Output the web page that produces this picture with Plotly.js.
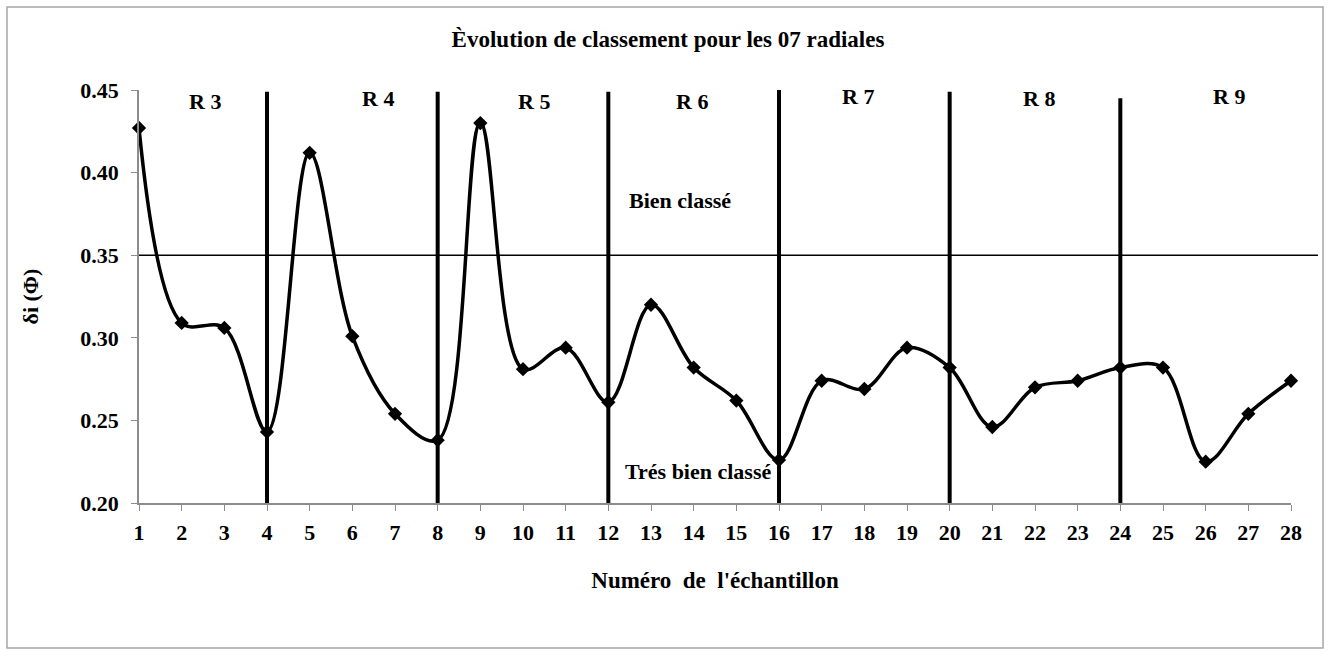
<!DOCTYPE html>
<html>
<head>
<meta charset="utf-8">
<script src="https://cdn.plot.ly/plotly-3.0.1.min.js"></script>
<style>
  html, body { margin: 0; padding: 0; background: #ffffff; }
  #chart { width: 1333px; height: 656px; }
</style>
</head>
<body>
<div id="chart"></div>
<script>
// ---- data ----
const sampleNumbers = [1,2,3,4,5,6,7,8,9,10,11,12,13,14,15,16,17,18,19,20,21,22,23,24,25,26,27,28];
const deltaPhi = [0.427,0.309,0.306,0.243,0.412,0.301,0.254,0.238,0.430,0.281,0.294,0.261,
                  0.320,0.282,0.262,0.226,0.274,0.269,0.294,0.282,0.246,0.270,0.274,0.282,
                  0.282,0.225,0.254,0.274];
const separatorX = [4, 8, 12, 16, 20, 24];
const separatorTop = [0.449, 0.449, 0.449, 0.451, 0.449, 0.445];
const thresholdValue = 0.35;
const regionLabels = ['R 3','R 4','R 5','R 6','R 7','R 8','R 9'];
const regionLabelX = [2.55, 6.6, 10.25, 13.95, 17.85, 22.1, 26.55];
const regionLabelY = [0.443, 0.445, 0.443, 0.443, 0.446, 0.445, 0.446];
const zoneLabels = ['Bien classé', 'Trés bien classé'];
const zoneLabelX = [13.68, 14.1];
const zoneLabelY = [0.383, 0.219];
const yTicks = [0.20, 0.25, 0.30, 0.35, 0.40, 0.45];

const serif = 'Liberation Serif, Times New Roman, serif';

const trace = {
  x: sampleNumbers,
  y: deltaPhi,
  type: 'scatter',
  mode: 'lines+markers',
  cliponaxis: false,
  line: { color: '#000000', width: 3.5, shape: 'spline', smoothing: 1 },
  marker: { symbol: 'diamond', size: 11, color: '#000000' },
  hoverinfo: 'x+y',
  showlegend: false
};

const shapes = [];
// outer chart border
shapes.push({
  type: 'rect', xref: 'paper', yref: 'paper',
  x0: -0.1146, x1: 1.0278, y0: -0.351, y1: 1.201,
  line: { color: '#a6a6a6', width: 1.5 }, fillcolor: 'rgba(0,0,0,0)', layer: 'below'
});
// threshold line
shapes.push({
  type: 'line', xref: 'paper', yref: 'y',
  x0: 0, x1: 1.0234, y0: thresholdValue, y1: thresholdValue,
  line: { color: '#000000', width: 1.5 }
});
// separators
separatorX.forEach((sx, i) => {
  shapes.push({
    type: 'line', xref: 'x', yref: 'y',
    x0: sx, x1: sx, y0: 0.20, y1: separatorTop[i],
    line: { color: '#000000', width: 4 }
  });
});

const annotations = [];
regionLabels.forEach((t, i) => {
  annotations.push({
    x: regionLabelX[i], y: regionLabelY[i], xref: 'x', yref: 'y',
    text: t, showarrow: false,
    font: { family: serif, size: 22, color: '#000000', weight: 'bold' }
  });
});
zoneLabels.forEach((t, i) => {
  annotations.push({
    x: zoneLabelX[i], y: zoneLabelY[i], xref: 'x', yref: 'y',
    text: t, showarrow: false,
    font: { family: serif, size: 22, color: '#000000', weight: 'bold' }
  });
});
// y-axis title as rotated annotation
annotations.push({
  x: (30 - 139) / 1152, xref: 'paper', xanchor: 'center',
  y: 0.5, yref: 'paper', yanchor: 'middle',
  text: 'δi (Φ)', textangle: -90, showarrow: false,
  font: { family: serif, size: 22, color: '#000000', weight: 'bold' }
});

const layout = {
  width: 1333,
  height: 656,
  margin: { l: 139, r: 42, t: 90, b: 153, pad: 0 },
  paper_bgcolor: '#ffffff',
  plot_bgcolor: '#ffffff',
  title: {
    text: 'Èvolution de classement pour les 07 radiales',
    font: { family: serif, size: 23, color: '#000000', weight: 'bold' },
    x: 668 / 1333, xref: 'container', xanchor: 'center',
    y: 1 - 39 / 656, yref: 'container', yanchor: 'middle'
  },
  xaxis: {
    range: [1, 28],
    tickmode: 'array',
    tickvals: sampleNumbers,
    ticktext: sampleNumbers.map(String),
    showgrid: false,
    zeroline: false,
    showline: true,
    linecolor: '#8c8c8c',
    linewidth: 1.5,
    ticks: 'outside',
    ticklen: 6,
    tickcolor: '#8c8c8c',
    ticklabelstandoff: 3,
    tickfont: { family: serif, size: 22, color: '#000000', weight: 'bold' },
    title: {
      text: "Numéro  de  l'échantillon",
      font: { family: serif, size: 23, color: '#000000', weight: 'bold' },
      standoff: 28
    }
  },
  yaxis: {
    range: [0.20, 0.45],
    tickmode: 'array',
    tickvals: yTicks,
    ticktext: yTicks.map(v => v.toFixed(2)),
    showgrid: false,
    zeroline: false,
    showline: true,
    linecolor: '#8c8c8c',
    linewidth: 1.5,
    ticks: 'outside',
    ticklen: 6,
    tickcolor: '#8c8c8c',
    ticklabelstandoff: 8,
    tickfont: { family: serif, size: 22, color: '#000000', weight: 'bold' }
  },
  shapes: shapes,
  annotations: annotations
};

Plotly.newPlot('chart', [trace], layout, { displayModeBar: false });
</script>
</body>
</html>
